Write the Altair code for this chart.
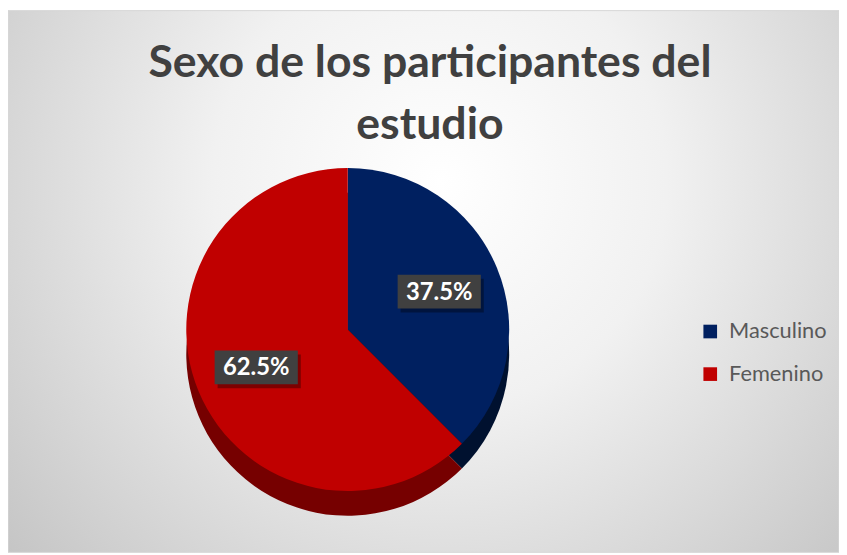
import altair as alt
import pandas as pd

# ---- data ----
categories = ["Masculino", "Femenino"]
values = [37.5, 62.5]
labels = ["37.5%", "62.5%"]
order = [0, 1]
title_lines = ["Sexo de los participantes del", "estudio"]

# ---- style ----
top_colors = ["#002060", "#C00000"]
side_colors = ["#00112F", "#760000"]
W, H = 839, 547
CX, CY = 343, 322          # pie centre (pixels in the chart)
R = 163                    # pie radius
DEPTH = 25                 # 3D side thickness
LR = 100                   # label distance from centre
FONT = "Lato"

df = pd.DataFrame({"sexo": categories, "pct": values, "label": labels, "order": order})

bg = alt.Chart(pd.DataFrame({"k": [0]})).mark_rect(
    fill={
        "gradient": "radial",
        "x1": 0.52, "y1": 0.38, "r1": 0,
        "x2": 0.52, "y2": 0.38, "r2": 0.78,
        "stops": [
            {"offset": 0, "color": "#ffffff"},
            {"offset": 0.35, "color": "#f1f1f1"},
            {"offset": 1, "color": "#bbbbbb"},
        ],
    },
    stroke="#d9d9d9",
    strokeWidth=1,
).encode(x=alt.value(0), x2=alt.value(W), y=alt.value(0), y2=alt.value(H))

base = alt.Chart(df)

side = base.mark_arc(radius=R).encode(
    theta=alt.Theta("pct:Q", stack=True),
    order=alt.Order("order:Q"),
    color=alt.condition("datum.sexo == 'Masculino'", alt.value(side_colors[0]), alt.value(side_colors[1])),
    x=alt.value(CX),
    y=alt.value(CY + DEPTH),
)

top = base.mark_arc(radius=R).encode(
    theta=alt.Theta("pct:Q", stack=True),
    order=alt.Order("order:Q"),
    color=alt.Color(
        "sexo:N",
        scale=alt.Scale(domain=categories, range=top_colors),
        legend=alt.Legend(
            title=None,
            orient="none",
            legendX=698,
            legendY=313,
            symbolType="square",
            symbolSize=190,
            symbolStrokeWidth=0,
            labelFont=FONT,
            labelFontSize=22,
            labelColor="#595959",
            labelOffset=8,
            rowPadding=21,
            padding=0,
        ),
    ),
    x=alt.value(CX),
    y=alt.value(CY),
)

pos = base.transform_joinaggregate(total="sum(pct)").transform_window(
    cum="sum(pct)", sort=[alt.SortField("order")]
).transform_calculate(
    mid="(datum.cum - datum.pct / 2) / datum.total * 2 * PI"
).transform_calculate(
    lx=f"{LR} * sin(datum.mid)",
    ly=f"{LR} * cos(datum.mid)",
)

xs = alt.X("lx:Q", scale=alt.Scale(domain=[-LR, LR], range=[CX - LR, CX + LR]), axis=None)
ys = alt.Y("ly:Q", scale=alt.Scale(domain=[-LR, LR], range=[CY + LR, CY - LR]), axis=None)

box_path = "M-1,-0.405L1,-0.405L1,0.405L-1,0.405Z"
shadow = pos.mark_point(shape=box_path, size=84 * 84, filled=True, color="#000000",
                        opacity=0.35, xOffset=3, yOffset=4, strokeWidth=0).encode(x=xs, y=ys)
box = pos.mark_point(shape=box_path, size=84 * 84, filled=True, color="#404040",
                     opacity=1, strokeWidth=0).encode(x=xs, y=ys)
txt = pos.mark_text(font=FONT, fontSize=24, fontWeight="bold", color="#ffffff",
                    baseline="middle", align="center", dy=1).encode(x=xs, y=ys, text="label:N")

title = alt.Chart(pd.DataFrame({"t": ["\n".join(title_lines)]})).mark_text(
    font=FONT, fontSize=45, fontWeight="bold", color="#404040",
    align="center", baseline="alphabetic", lineBreak="\n", lineHeight=63,
).encode(x=alt.value(426), y=alt.value(67), text="t:N")

chart = alt.layer(bg, side, top, shadow, box, txt, title).properties(
    width=W, height=H,
    autosize=alt.AutoSizeParams(type="none"),
    padding=0,
).configure_view(stroke=None)

chart.save("out.html", embed_options={"renderer": "svg", "actions": False})
